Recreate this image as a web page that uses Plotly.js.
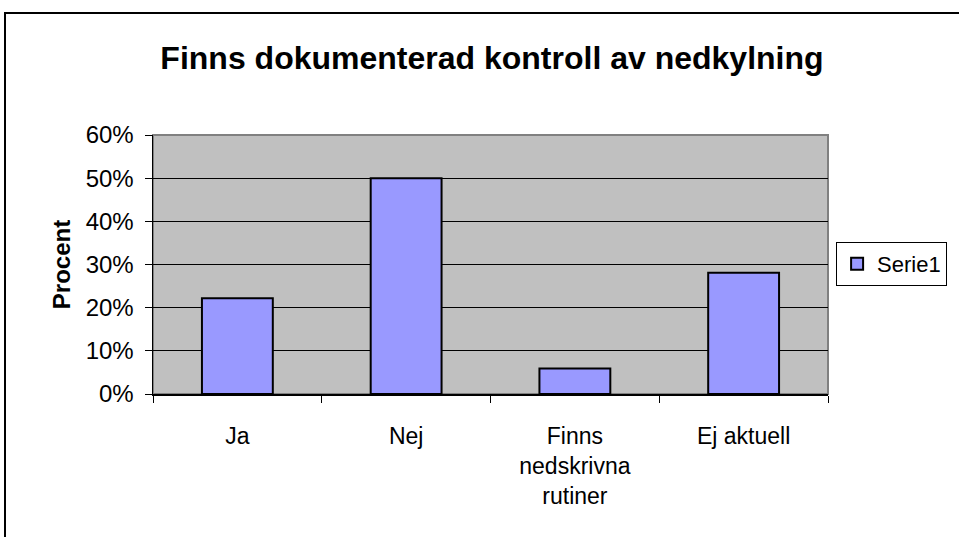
<!DOCTYPE html>
<html>
<head>
<meta charset="utf-8">
<script src="https://cdn.plot.ly/plotly-3.0.1.min.js"></script>
<style>
html,body{margin:0;padding:0;background:#fff;overflow:hidden;}
#wrap{position:relative;width:959px;height:537px;overflow:hidden;}
#chart{width:959px;height:537px;}
#frame{position:absolute;left:4px;top:12px;width:960px;height:540px;border-left:2px solid #000;border-top:2px solid #000;pointer-events:none;}
</style>
</head>
<body>
<div id="wrap"><div id="chart"></div><div id="frame"></div></div>
<script>
var categories = ["Ja", "Nej", "Finns<br>nedskrivna<br>rutiner", "Ej aktuell"];
var values = [0.222, 0.50, 0.059, 0.281];
var seriesName = "Serie1";
var yTicks = [0, 0.1, 0.2, 0.3, 0.4, 0.5, 0.6];
var yTickLabels = ["0%", "10%", "20%", "30%", "40%", "50%", "60%"];
var titleText = "Finns dokumenterad kontroll av nedkylning";
var yTitle = "Procent";

var font = "Liberation Sans, Arial, sans-serif";
var trace = {
  type: "bar",
  x: categories,
  y: values,
  name: seriesName,
  showlegend: true,
  marker: {color: "#9999ff", line: {color: "#000", width: 2}},
  hoverinfo: "none"
};
var layout = {
  width: 959, height: 537,
  margin: {l: 153, r: 131, t: 135, b: 143, autoexpand: false},
  paper_bgcolor: "#fff",
  plot_bgcolor: "#c0c0c0",
  font: {family: font, color: "#000", size: 20},
  title: {text: "<b>" + titleText + "</b>", font: {family: font, size: 32, color: "#000"},
          x: 0.513, xanchor: "center", y: 0.892, yanchor: "middle"},
  bargap: 0.58,
  xaxis: {
    type: "category",
    showline: true, linecolor: "#000", linewidth: 1.5,
    ticks: "outside", tickson: "boundaries", ticklen: 7, tickcolor: "#000", tickwidth: 1,
    tickfont: {family: font, size: 23, color: "#000"},
    ticklabelstandoff: 21,
    showgrid: false, zeroline: false, fixedrange: true
  },
  yaxis: {
    range: [0, 0.6],
    tickvals: yTicks, ticktext: yTickLabels,
    showline: true, linecolor: "#000", linewidth: 1.5,
    ticks: "outside", ticklen: 7, tickcolor: "#000", tickwidth: 1,
    tickfont: {family: font, size: 24, color: "#000"},
    ticklabelstandoff: 6,
    showgrid: true, gridcolor: "#000", gridwidth: 1,
    zeroline: false, fixedrange: true,
    title: {text: "<b>" + yTitle + "</b>", font: {family: font, size: 24, color: "#000"}, standoff: 8}
  },
  legend: {
    x: 1.012, xanchor: "left", y: 0.502, yanchor: "middle",
    bordercolor: "#000", borderwidth: 1, bgcolor: "#fff",
    font: {family: font, size: 22, color: "#000"},
    itemwidth: 30
  },
  shapes: [{
    type: "rect", xref: "paper", yref: "paper", x0: 0, x1: 1, y0: 0, y1: 1,
    line: {color: "#808080", width: 2}, layer: "below"
  }]
};
Plotly.newPlot("chart", [trace], layout, {displayModeBar: false, staticPlot: true});
</script>
</body>
</html>
